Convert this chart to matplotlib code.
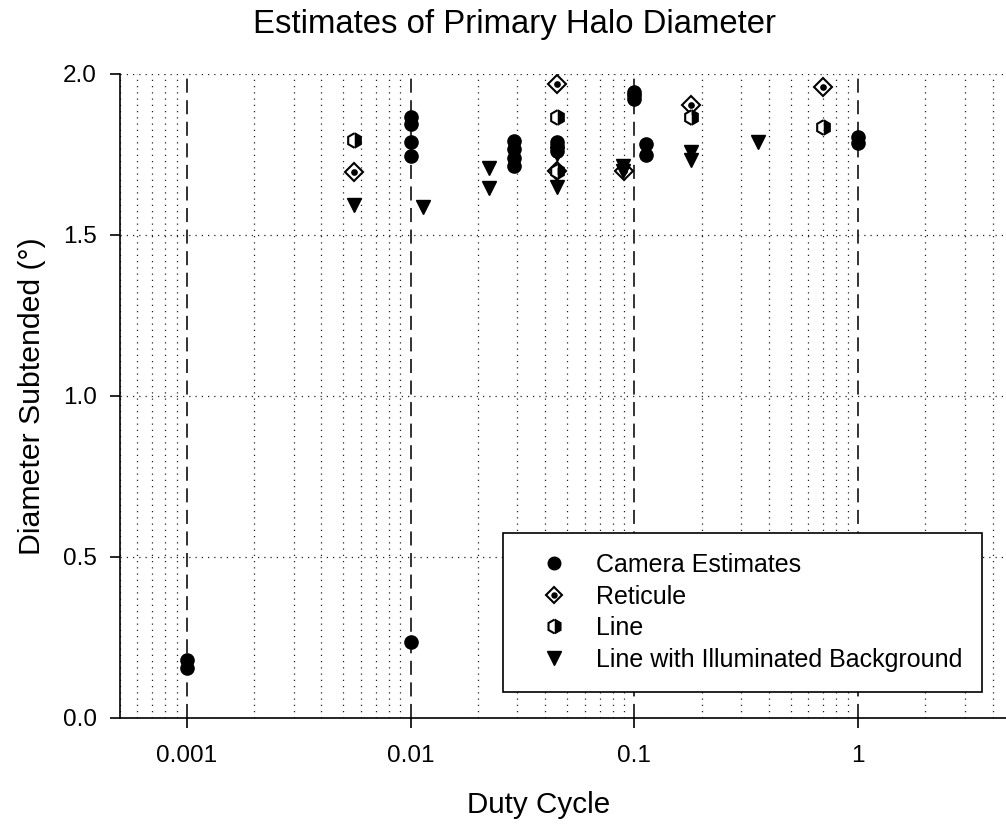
import matplotlib
matplotlib.use("Agg")
import matplotlib.pyplot as plt
from matplotlib.ticker import LogLocator, FixedLocator, NullFormatter, FixedFormatter

plt.rcParams['font.family'] = ['Liberation Sans', 'DejaVu Sans']

# ---------------- data ----------------
camera_x = [0.001, 0.001, 0.01, 0.01, 0.01, 0.01, 0.01,
            0.029, 0.029, 0.029, 0.029,
            0.045, 0.045, 0.045,
            0.1, 0.1, 0.1,
            0.113, 0.113,
            1.0, 1.0]
camera_y = [0.18, 0.155, 0.236, 1.866, 1.846, 1.79, 1.745,
            1.792, 1.766, 1.740, 1.715,
            1.79, 1.775, 1.76,
            1.945, 1.935, 1.922,
            1.783, 1.749,
            1.805, 1.785]

reticule_x = [0.0056, 0.045, 0.045, 0.09, 0.179, 0.70]
reticule_y = [1.697, 1.969, 1.70, 1.70, 1.904, 1.959]

line_x = [0.0056, 0.045, 0.045, 0.179, 0.70]
line_y = [1.795, 1.867, 1.70, 1.867, 1.836]

illum_x = [0.0056, 0.01136, 0.0225, 0.0225, 0.045, 0.045, 0.0895, 0.0895, 0.179, 0.179, 0.359]
illum_y = [1.593, 1.588, 1.707, 1.645, 1.75, 1.65, 1.715, 1.70, 1.759, 1.733, 1.79]

series_labels = ["Camera Estimates", "Reticule", "Line", "Line with Illuminated Background"]
x_ticks = [0.001, 0.01, 0.1, 1]
x_ticklabels = ["0.001", "0.01", "0.1", "1"]
y_ticks = [0.0, 0.5, 1.0, 1.5, 2.0]
y_ticklabels = ["0.0", "0.5", "1.0", "1.5", "2.0"]

title = "Estimates of Primary Halo Diameter"
xlabel = "Duty Cycle"
ylabel = "Diameter Subtended (°)"

# ---------------- figure ----------------
W, H = 1006, 825
fig = plt.figure(figsize=(W / 100, H / 100), dpi=100)

ax_left, ax_right = 119.5, 1014.2
ax_top, ax_bottom = 74.0, 717.7
ax = fig.add_axes([ax_left / W, 1 - ax_bottom / H, (ax_right - ax_left) / W, (ax_bottom - ax_top) / H])
ax.set_xscale('log')
ax.set_xlim(0.0005, 5)
ax.set_ylim(0.0, 2.0)

for s in ['top', 'right']:
    ax.spines[s].set_visible(False)
for s in ['left', 'bottom']:
    ax.spines[s].set_linewidth(1.2)
    ax.spines[s].set_color('black')

ax.xaxis.set_major_locator(FixedLocator(x_ticks))
ax.xaxis.set_major_formatter(FixedFormatter(x_ticklabels))
ax.xaxis.set_minor_locator(LogLocator(base=10, subs=[2, 3, 4, 5, 6, 7, 8, 9], numticks=20))
ax.xaxis.set_minor_formatter(NullFormatter())
ax.yaxis.set_major_locator(FixedLocator(y_ticks))
ax.yaxis.set_major_formatter(FixedFormatter(y_ticklabels))

ax.tick_params(axis='both', which='major', direction='out', length=7.5, width=1.2,
               labelsize=17.5, colors='black')
ax.tick_params(axis='x', which='major', pad=12)
ax.tick_params(axis='y', which='major', pad=9)
ax.tick_params(axis='x', which='minor', length=0)

dot = (0, (1, 4))
ax.grid(True, axis='x', which='major', linestyle=(0, (7.5, 4)), linewidth=1.35, color='#2a2a2a', zorder=0)
ax.grid(True, axis='x', which='minor', linestyle=dot, linewidth=0.9, color='#222222', zorder=0)
ax.grid(True, axis='y', which='major', linestyle=dot, linewidth=0.9, color='#222222', zorder=0)
ax.set_axisbelow(True)

# ---------------- series ----------------
h_cam, = ax.plot(camera_x, camera_y, linestyle='none', marker='o', markersize=9.5,
                 markerfacecolor='black', markeredgecolor='black', clip_on=False, zorder=3)
h_ret1, = ax.plot(reticule_x, reticule_y, linestyle='none', marker='D', markersize=8.8,
                  markerfacecolor='white', markeredgecolor='black', markeredgewidth=1.5, zorder=3)
h_ret2, = ax.plot(reticule_x, reticule_y, linestyle='none', marker='o', markersize=3.8,
                  markerfacecolor='black', markeredgecolor='black', zorder=3)
h_line, = ax.plot(line_x, line_y, linestyle='none', marker='h', markersize=10.5,
                  fillstyle='right', markerfacecolor='black', markerfacecoloralt='white',
                  markeredgecolor='black', markeredgewidth=1.5, zorder=3)
h_ill, = ax.plot(illum_x, illum_y, linestyle='none', marker='v', markersize=10,
                 markerfacecolor='black', markeredgecolor='black', zorder=3)

leg = ax.legend([h_cam, (h_ret1, h_ret2), h_line, h_ill], series_labels,
                loc='upper left', bbox_to_anchor=((503 - ax_left) / (ax_right - ax_left),
                                                  (ax_bottom - 533) / (ax_bottom - ax_top)),
                borderaxespad=0, fontsize=18, frameon=True, fancybox=False,
                edgecolor='black', framealpha=1.0, borderpad=0.8, labelspacing=0.3,
                handlelength=2.5, handletextpad=0.4, markerscale=0.95)
leg.get_frame().set_linewidth(1.2)

# ---------------- texts ----------------
fig.text(514.5 / W, 1 - 25 / H, title, ha='center', va='center', fontsize=23.7)
fig.text(539 / W, 1 - 805 / H, xlabel, ha='center', va='center', fontsize=21.3)
fig.text(32 / W, 1 - 396 / H, ylabel, ha='center', va='center', rotation=90, fontsize=21.8)

fig.savefig('out.png', dpi=100)
